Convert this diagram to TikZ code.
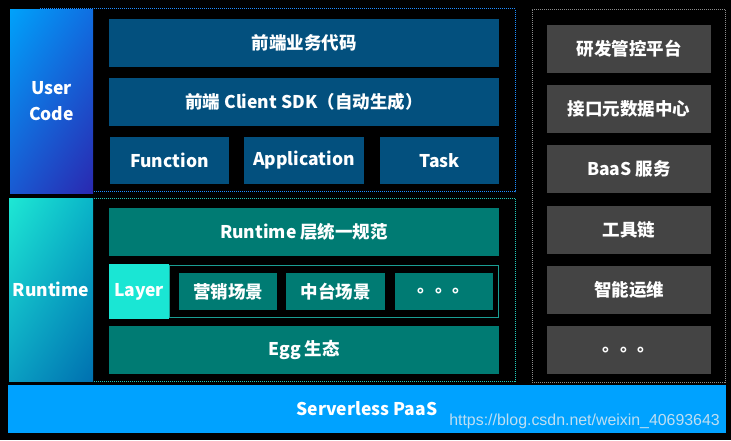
\documentclass[tikz,border=0pt]{standalone}
\usepackage{fontspec}
\usetikzlibrary{shadings}
\setmainfont{Noto Sans CJK SC}
\newfontfamily\wmfont{Liberation Sans}
\definecolor{ubc}{RGB}{3,80,126}
\definecolor{tbc}{RGB}{0,123,115}
\definecolor{gbc}{RGB}{68,68,68}
\definecolor{layc}{RGB}{26,230,212}
\definecolor{paasc}{RGB}{0,162,255}
\definecolor{ucdotc}{RGB}{30,140,255}
\definecolor{rtdotc}{RGB}{32,200,184}
\definecolor{rdotc}{RGB}{140,140,140}
\definecolor{lframec}{RGB}{26,158,148}
\definecolor{wmc}{RGB}{190,222,242}
\definecolor{ucul}{RGB}{0,162,250}
\definecolor{ucur}{RGB}{16,110,225}
\definecolor{ucll}{RGB}{25,90,210}
\definecolor{uclr}{RGB}{42,40,176}
\definecolor{rtul}{RGB}{30,232,212}
\definecolor{rtur}{RGB}{10,180,200}
\definecolor{rtll}{RGB}{10,160,195}
\definecolor{rtlr}{RGB}{0,112,176}
\begin{document}
\begin{tikzpicture}[x=1pt,y=-1pt,
  blk/.style={inner sep=0pt, outer sep=0pt, text=white, font=\fontsize{17.5}{20}\selectfont\bfseries},
  ub/.style={blk, fill=ubc},
  tb/.style={blk, fill=tbc},
  gb/.style={blk, fill=gbc, minimum width=164pt, minimum height=48pt},
  dotframe/.style={inner sep=0pt, outer sep=0pt, line width=1pt, dash pattern=on 1pt off 1pt},
]
\fill[black] (0,0) rectangle (731,440);
\useasboundingbox (0,0) rectangle (731,440);

% frames
\node[dotframe, draw=ucdotc, minimum width=475pt, minimum height=183pt] (ucframe) at (277.5,100) {};
\node[dotframe, draw=rtdotc, minimum width=475pt, minimum height=183pt] (rtframe) at (277.5,289.5) {};
\node[dotframe, draw=rdotc, minimum width=193pt, minimum height=373pt] (rframe) at (628.5,195.5) {};

% user code
\node[blk, minimum width=83pt, minimum height=184pt, align=center,
  font=\fontsize{17.5}{26}\selectfont\bfseries,
  upper left=ucul, upper right=ucur, lower left=ucll, lower right=uclr] (uc) at (51.5,101) {User\\Code};
\node[ub, minimum width=390pt, minimum height=48pt] (biz) at (304,43) {前端业务代码};
\node[ub, minimum width=390pt, minimum height=48pt] (sdk) at (304,102) {前端 Client SDK（自动生成）};
\node[ub, minimum width=119pt, minimum height=47pt] (func) at (169.5,160.5) {Function};
\node[ub, minimum width=120pt, minimum height=47pt] (app) at (304,160.5) {Application};
\node[ub, minimum width=119pt, minimum height=47pt] (task) at (439.5,160.5) {Task};

% runtime
\node[blk, minimum width=84pt, minimum height=183pt,
  upper left=rtul, upper right=rtur, lower left=rtll, lower right=rtlr] (rt) at (51,289.5) {Runtime};
\node[tb, minimum width=390pt, minimum height=48pt] (spec) at (304,232) {Runtime 层统一规范};
\node[inner sep=0pt, outer sep=0pt, draw=lframec, line width=1pt, minimum width=329pt, minimum height=52pt] (lframe) at (333.5,291.5) {};
\node[blk, fill=layc, minimum width=60pt, minimum height=55pt] (layer) at (139,291.5) {Layer};
\node[tb, minimum width=98pt, minimum height=37pt] (yx) at (228,291.5) {营销场景};
\node[tb, minimum width=99pt, minimum height=37pt] (zt) at (335.5,291.5) {中台场景};
\node[tb, minimum width=98pt, minimum height=37pt] (more) at (444,291.5) {。。。};
\node[tb, minimum width=390pt, minimum height=48pt] (egg) at (304,350) {Egg 生态};

% right panel
\node[gb] (r1) at (629,49) {研发管控平台};
\node[gb] (r2) at (629,109) {接口元数据中心};
\node[gb] (r3) at (629,169) {BaaS 服务};
\node[gb] (r4) at (629,230) {工具链};
\node[gb] (r5) at (629,290) {智能运维};
\node[gb] (r6) at (629,350) {。。。};

% paas
\node[blk, fill=paasc, minimum width=718pt, minimum height=48pt] (paas) at (367,409) {Serverless PaaS};
\node[anchor=base east, inner sep=0pt, text=wmc, font=\wmfont\fontsize{15.9}{18}\selectfont] (wm) at (720,425.5) {https://blog.csdn.net/weixin\_40693643};
\end{tikzpicture}
\end{document}
